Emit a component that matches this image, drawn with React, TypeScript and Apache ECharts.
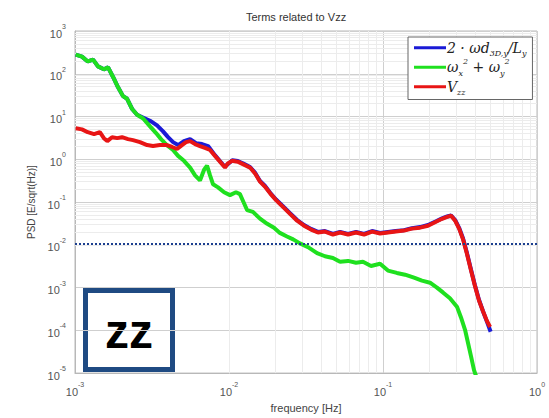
import React, { useEffect, useRef } from "react";
import * as echarts from "echarts";

const titleText = "Terms related to Vzz";
const xAxisName = "frequency [Hz]";
const yAxisName = "PSD [E/sqrt(Hz)]";
const seriesNames = ["2·ωd3D,y/Ly", "ωx2 + ωy2", "Vzz"];
const refLevel = 0.0105;

const greenPoints: [number, number][] = [
  [0.00101, 281], [0.00111, 252], [0.00121, 194], [0.00131, 215], [0.00141, 149],
  [0.00154, 127], [0.00164, 141], [0.00177, 83], [0.0019, 49], [0.00205, 30],
  [0.00218, 26], [0.00235, 15], [0.00253, 11], [0.00277, 9], [0.00307, 5.9],
  [0.00336, 4.1], [0.00362, 2.96], [0.00395, 2.15], [0.00433, 1.65], [0.00467, 1.2],
  [0.0051, 0.92], [0.00559, 0.64], [0.00602, 0.42], [0.00648, 0.32], [0.00689, 0.57],
  [0.0072, 0.71], [0.00753, 0.42], [0.00788, 0.26], [0.00849, 0.22], [0.00929, 0.17],
  [0.01015, 0.145], [0.0111, 0.17], [0.01178, 0.153], [0.0125, 0.095], [0.0131, 0.065],
  [0.0143, 0.059], [0.0159, 0.041], [0.0177, 0.031], [0.0196, 0.025], [0.0214, 0.019],
  [0.0238, 0.0157], [0.0261, 0.0134], [0.0289, 0.0108], [0.0326, 0.0088], [0.0373, 0.0064],
  [0.042, 0.0054], [0.0473, 0.0049], [0.0526, 0.004], [0.0593, 0.0042], [0.0668, 0.0038],
  [0.0741, 0.004], [0.0836, 0.0032], [0.0957, 0.0036], [0.1077, 0.0025], [0.123, 0.0022],
  [0.139, 0.002], [0.159, 0.0017], [0.179, 0.00145], [0.202, 0.0013], [0.224, 0.001],
  [0.245, 0.00077], [0.272, 0.00056], [0.303, 0.00035], [0.321, 0.0002], [0.341, 0.000103],
  [0.356, 0.000052], [0.373, 0.0000246], [0.39, 0.0000117], [0.41, 0.000007],
];

const redPoints: [number, number][] = [
  [0.00101, 5.3], [0.00111, 5.0], [0.00121, 4.3], [0.00133, 3.86], [0.00145, 4.3],
  [0.00154, 3.12], [0.00162, 2.66], [0.00174, 3.29], [0.00188, 3.12], [0.00202, 3.29],
  [0.00221, 2.96], [0.00238, 2.81], [0.00264, 2.52], [0.00294, 2.15], [0.00321, 2.04],
  [0.00356, 2.15], [0.00395, 2.15], [0.00427, 1.94], [0.0046, 1.74], [0.00495, 2.15],
  [0.00526, 2.52], [0.00559, 2.66], [0.00602, 2.27], [0.00648, 2.04], [0.00698, 1.84],
  [0.00753, 1.65], [0.00811, 1.2], [0.00874, 0.88], [0.00942, 0.64], [0.0098, 0.79],
  [0.01045, 0.92], [0.0114, 0.88], [0.0125, 0.75], [0.0137, 0.64], [0.0148, 0.46],
  [0.0159, 0.3], [0.0171, 0.23], [0.0185, 0.16], [0.0202, 0.111], [0.0224, 0.077],
  [0.0249, 0.053], [0.0277, 0.0366], [0.0307, 0.028], [0.0341, 0.0227], [0.0378, 0.0194],
  [0.042, 0.0204], [0.0473, 0.0174], [0.0526, 0.0194], [0.0593, 0.0174], [0.0668, 0.0194],
  [0.0753, 0.0174], [0.0849, 0.0204], [0.0957, 0.0184], [0.1077, 0.0194], [0.121, 0.0204],
  [0.137, 0.0215], [0.154, 0.0239], [0.174, 0.0252], [0.196, 0.028], [0.221, 0.0347],
  [0.242, 0.0406], [0.261, 0.045], [0.277, 0.0477], [0.294, 0.0366], [0.312, 0.0239],
  [0.331, 0.0134], [0.351, 0.0061], [0.373, 0.0025], [0.395, 0.00111], [0.42, 0.0005],
  [0.446, 0.00028], [0.473, 0.000165], [0.496, 0.00012],
];

const bluePoints: [number, number][] = [
  [0.00101, 281], [0.00111, 252], [0.00121, 194], [0.00131, 215], [0.00141, 149],
  [0.00154, 127], [0.00164, 141], [0.00177, 83], [0.0019, 49], [0.00205, 30],
  [0.00218, 26], [0.00235, 15], [0.00253, 11], [0.00285, 9.0], [0.00312, 7.7],
  [0.00341, 6.2], [0.00373, 4.5], [0.00402, 3.3], [0.00433, 2.52], [0.00467, 2.15],
  [0.0051, 2.66], [0.00559, 2.96], [0.00611, 2.39], [0.00668, 2.27], [0.00731, 2.04],
  [0.0081, 1.25], [0.0087, 0.92], [0.0094, 0.67], [0.0105, 0.95], [0.0114, 0.91],
  [0.0125, 0.78], [0.0137, 0.66], [0.0148, 0.48], [0.0159, 0.31], [0.0171, 0.24],
  [0.0185, 0.165], [0.0202, 0.115], [0.0224, 0.08], [0.0249, 0.055], [0.0277, 0.038],
  [0.0307, 0.029], [0.0341, 0.0235], [0.0378, 0.02], [0.042, 0.021], [0.0473, 0.018],
  [0.0526, 0.02], [0.0593, 0.018], [0.0668, 0.02], [0.0753, 0.018], [0.0849, 0.021],
  [0.0957, 0.019], [0.1077, 0.02], [0.121, 0.021], [0.137, 0.022], [0.154, 0.0245],
  [0.174, 0.026], [0.196, 0.029], [0.221, 0.0355], [0.242, 0.0415], [0.261, 0.046],
  [0.277, 0.0485], [0.294, 0.038], [0.312, 0.025], [0.331, 0.014], [0.351, 0.0064],
  [0.373, 0.0026], [0.395, 0.00115], [0.42, 0.00052], [0.446, 0.00028], [0.473, 0.00016],
  [0.5, 0.0000925],
];

const xDecades = [-3, -2, -1];
const yDecades = [-5, -4, -3, -2, -1, 0, 1, 2];
const minorSteps = [2, 3, 4, 5, 6, 7, 8, 9];

const legendRich: Record<string, string> = {
  [seriesNames[0]]: "{m|2 · ωd}{sb|3D,y}{m|/L}{sb|y}",
  [seriesNames[1]]: "{m|ω}{sb|x}{sp|2}{m| + ω}{sb|y}{sp|2}",
  [seriesNames[2]]: "{m|V}{sb|zz}",
};

function expLabel(v: number) {
  const e = Math.round(Math.log10(v));
  return `{b|10}{s|${e}}`;
}

export default function App() {
  const ref = useRef<HTMLDivElement>(null);
  useEffect(() => {
    if (!ref.current) return;
    const chart = echarts.init(ref.current, undefined, { renderer: "svg" });
    const axisRich = {
      b: { fontSize: 11, color: "#555", fontFamily: "Liberation Sans", lineHeight: 16, verticalAlign: "bottom" },
      s: { fontSize: 7, color: "#555", fontFamily: "Liberation Sans", lineHeight: 16, verticalAlign: "top" },
    };
    const minorX: any[] = [];
    xDecades.forEach((d) => minorSteps.forEach((m) => minorX.push({ xAxis: m * Math.pow(10, d) })));
    const minorY: any[] = [];
    yDecades.forEach((d) => minorSteps.forEach((m) => minorY.push({ yAxis: m * Math.pow(10, d) })));

    chart.setOption({
      animation: false,
      backgroundColor: "#fff",
      title: {
        text: titleText,
        left: 291,
        top: 6,
        textAlign: "center",
        textStyle: { fontSize: 11, fontWeight: "normal", color: "#333", fontFamily: "Liberation Sans" },
      },
      grid: { left: 75, right: 12, top: 31, bottom: 39, show: true, borderColor: "#b8b8b8", borderWidth: 1, backgroundColor: "#fff" },
      legend: {
        data: seriesNames,
        orient: "vertical",
        left: 408,
        top: 37,
        z: 50,
        itemWidth: 32,
        itemHeight: 3,
        itemGap: 0,
        icon: "rect",
        padding: [1, 6, 3, 6],
        backgroundColor: "#fff",
        borderColor: "#666",
        borderWidth: 1,
        formatter: (name: string) => legendRich[name] || name,
        textStyle: {
          padding: [0, 0, 0, -4],
          lineHeight: 19.5,
          rich: {
            m: { fontFamily: "DejaVu Serif", fontStyle: "italic", fontSize: 14, color: "#222", lineHeight: 19.5 },
            sb: { fontFamily: "DejaVu Serif", fontStyle: "italic", fontSize: 8, color: "#222", lineHeight: 13, verticalAlign: "bottom" },
            sp: { fontFamily: "DejaVu Serif", fontStyle: "italic", fontSize: 8, color: "#222", lineHeight: 15, verticalAlign: "top" },
          },
        },
      },
      xAxis: {
        type: "log",
        logBase: 10,
        min: 0.001,
        max: 1,
        name: xAxisName,
        nameLocation: "middle",
        nameGap: 24,
        nameTextStyle: { fontSize: 11, color: "#444", fontFamily: "Liberation Sans" },
        axisLine: { show: true, lineStyle: { color: "#b8b8b8" } },
        axisTick: { show: false },
        axisLabel: { formatter: expLabel, rich: axisRich, margin: 8 },
        splitLine: { show: true, lineStyle: { color: "#cfcfcf", width: 1 } },
      },
      yAxis: {
        type: "log",
        logBase: 10,
        min: 0.00001,
        max: 1000,
        name: yAxisName,
        nameLocation: "middle",
        nameGap: 33,
        nameTextStyle: { fontSize: 10, color: "#444", fontFamily: "Liberation Sans" },
        axisLine: { show: true, lineStyle: { color: "#b8b8b8" } },
        axisTick: { show: false },
        axisLabel: { formatter: expLabel, rich: axisRich, margin: 9 },
        splitLine: { show: true, lineStyle: { color: "#cfcfcf", width: 1 } },
      },
      series: [
        {
          name: "minor-grid",
          type: "line",
          data: [[0.001, 0.00001]],
          symbol: "none",
          lineStyle: { width: 0 },
          z: 1,
          silent: true,
          markLine: {
            z: 1,
            silent: true,
            symbol: ["none", "none"],
            label: { show: false },
            lineStyle: { color: "#ececec", width: 1, type: "solid" },
            data: [...minorX, ...minorY],
          },
        },
        {
          name: seriesNames[0],
          type: "line",
          data: bluePoints,
          symbol: "none",
          color: "#1a1ad6",
          lineStyle: { width: 4, color: "#1a1ad6" },
          z: 10,
        },
        {
          name: seriesNames[1],
          type: "line",
          data: greenPoints,
          symbol: "none",
          color: "#1fe01f",
          lineStyle: { width: 4, color: "#1fe01f" },
          z: 11,
        },
        {
          name: seriesNames[2],
          type: "line",
          data: redPoints,
          symbol: "none",
          color: "#e81515",
          lineStyle: { width: 4, color: "#e81515" },
          z: 12,
        },
        {
          name: "ref",
          type: "line",
          data: [[0.001, refLevel], [1, refLevel]],
          symbol: "none",
          lineStyle: { width: 2, type: [2, 2], color: "#1c3f8f" },
          z: 13,
        },
      ],
      graphic: [
        {
          type: "group",
          left: 83,
          top: 288,
          z: 100,
          children: [
            { type: "rect", shape: { x: 2.5, y: 2.5, width: 87, height: 79 }, style: { fill: "#fff", stroke: "#1f4a82", lineWidth: 5 } },
            {
              type: "text",
              x: 46,
              y: 43,
              style: { text: "zz", font: "bold 48px 'Liberation Sans'", fill: "#000", textAlign: "center", textVerticalAlign: "middle" },
            },
          ],
        },
      ],
    });
    return () => chart.dispose();
  }, []);
  return <div ref={ref} style={{ position: "fixed", left: 0, top: 0, width: 549, height: 418 }} />;
}
